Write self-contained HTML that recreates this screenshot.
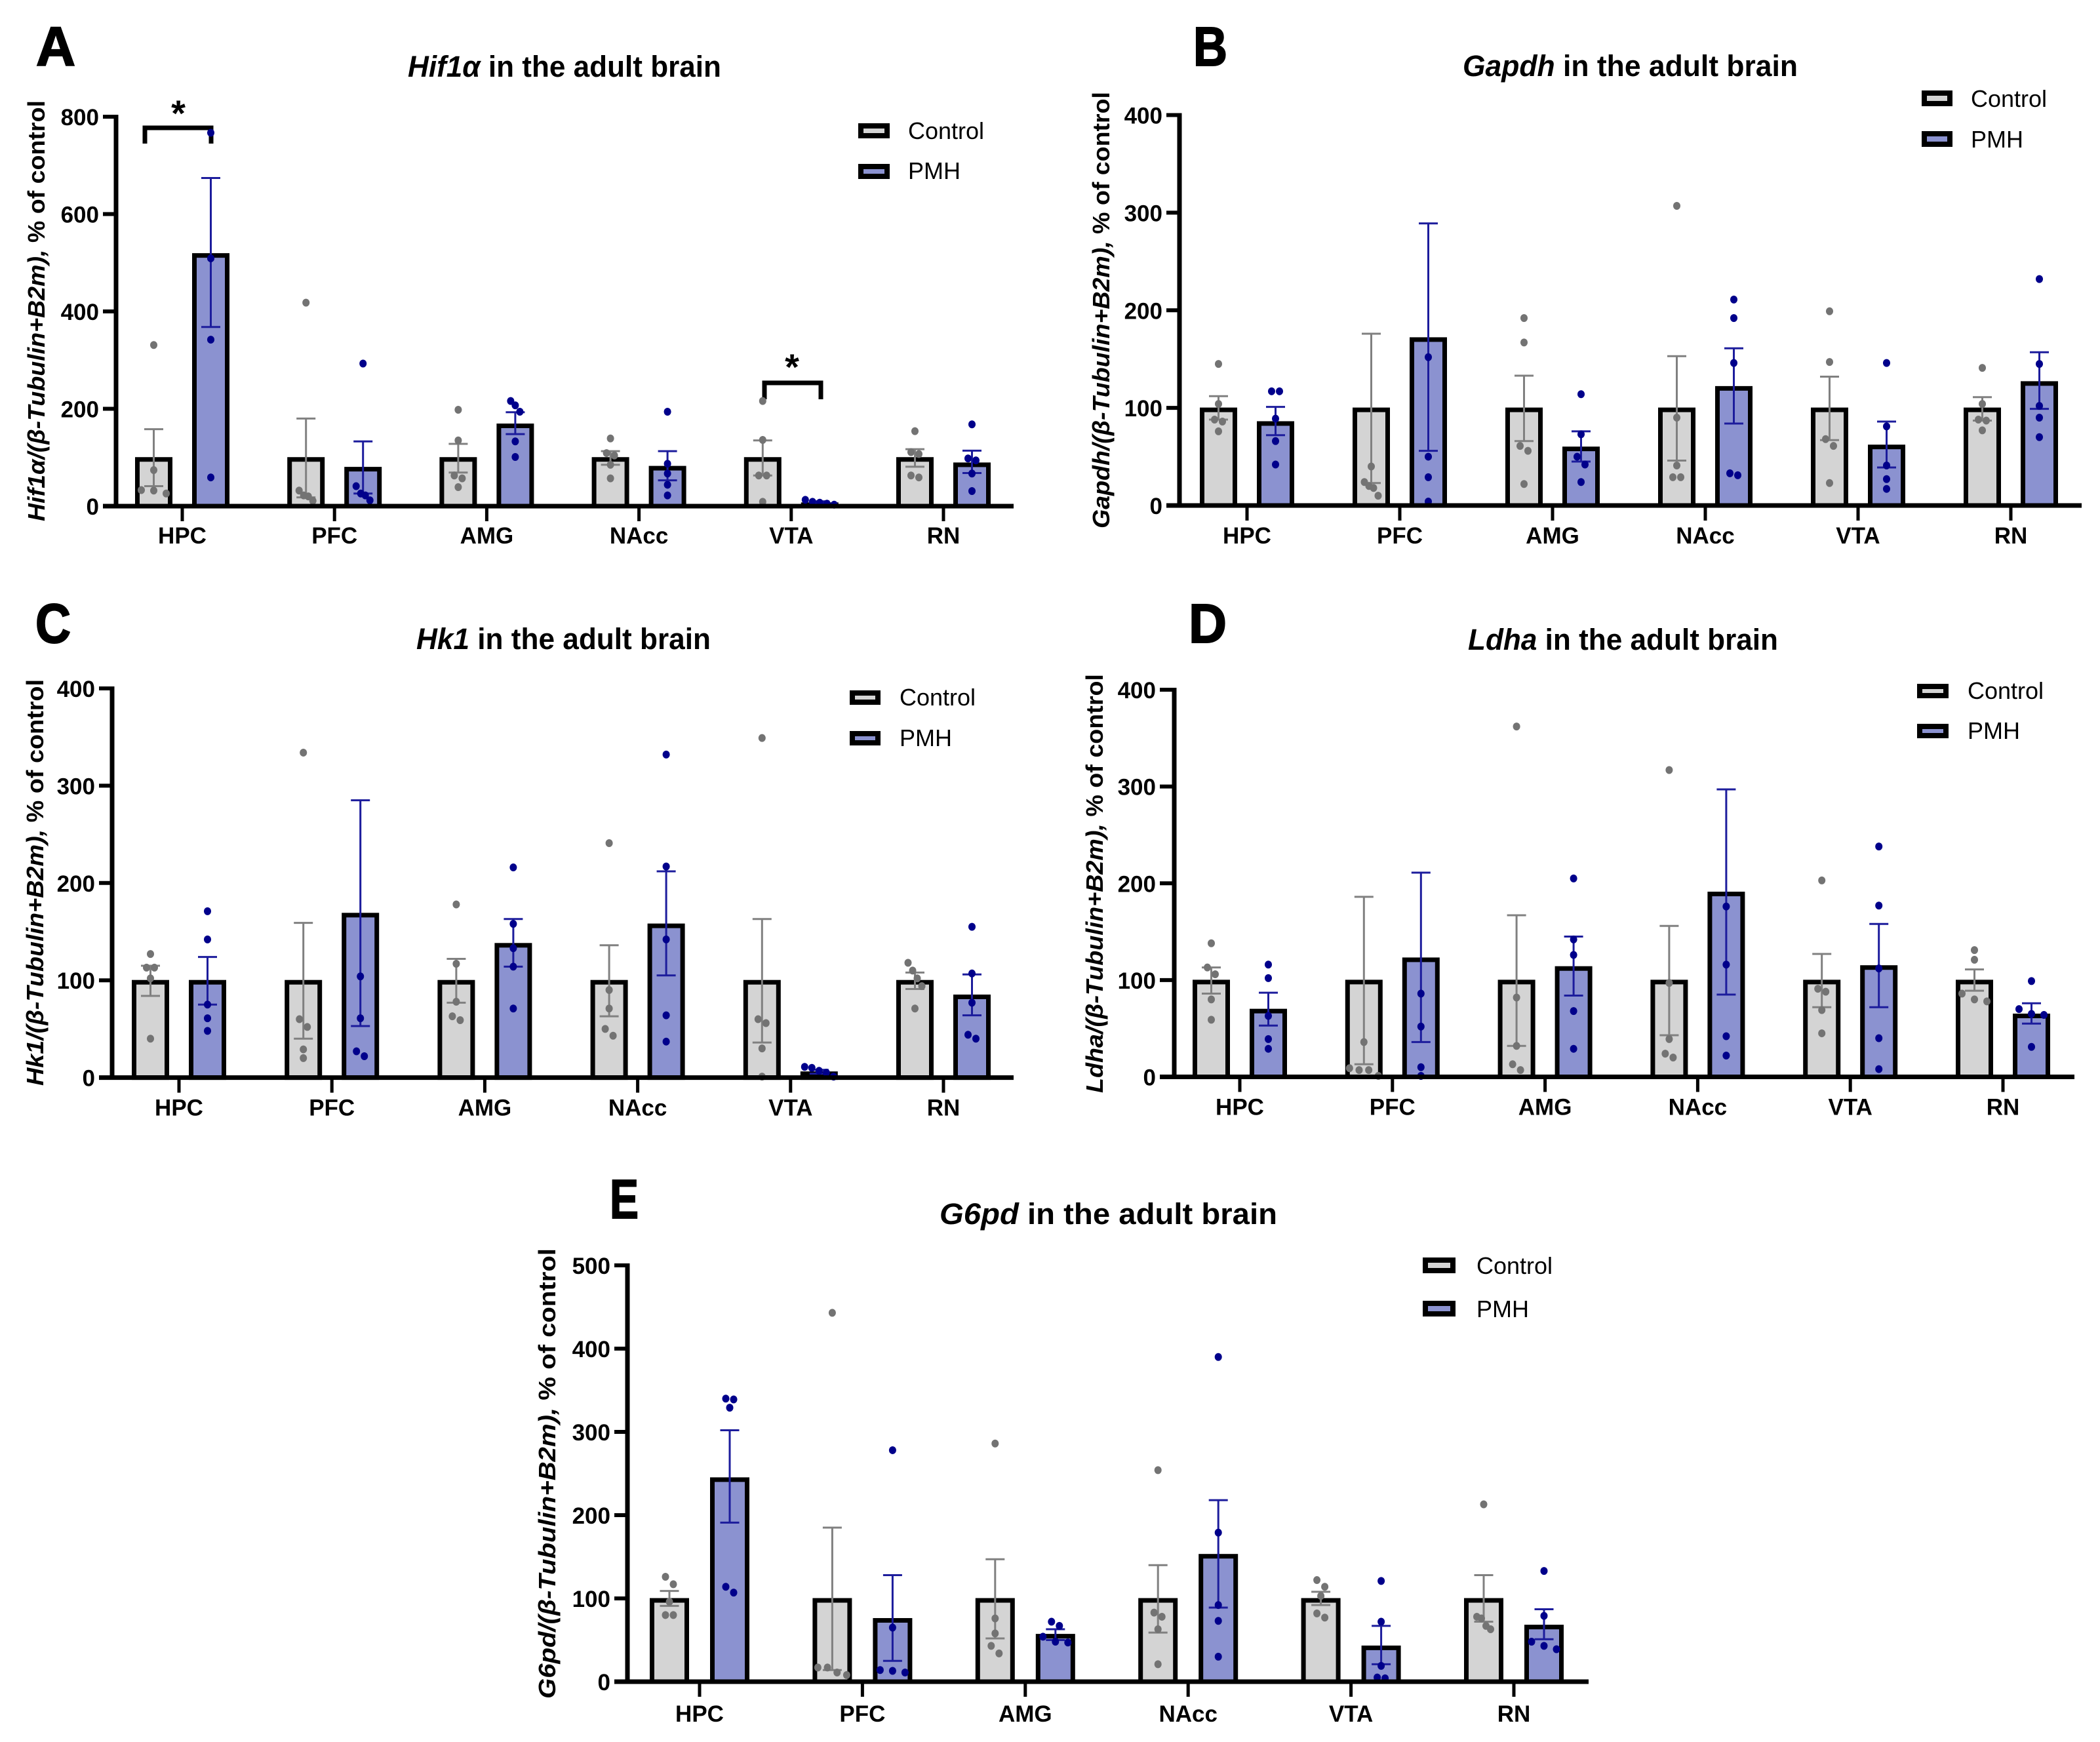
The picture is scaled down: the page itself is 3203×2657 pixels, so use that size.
<!DOCTYPE html>
<html lang="en">
<head>
<meta charset="utf-8">
<title>Gene expression in the adult brain</title>
<style>
html,body{margin:0;padding:0;background:#fff;}
svg{display:block;}
text{font-family:"Liberation Sans","DejaVu Sans",sans-serif;fill:#000;}
.letter{font-size:84px;font-weight:700;stroke:#000;stroke-width:2;}
.title{font-size:45px;font-weight:700;}
.ytitle{font-size:36px;font-weight:700;}
.legend{font-size:36px;}
.tick{font-size:35px;font-weight:700;}
.star{font-size:56px;font-weight:700;text-anchor:middle;}
.ctrl{fill:#d4d4d4;stroke:#000;stroke-width:8;}
.pmh{fill:#8b92d0;stroke:#000;stroke-width:8;}
</style>
</head>
<body>
<svg id="figure" xmlns="http://www.w3.org/2000/svg" width="3203" height="2657" viewBox="0 0 3203 2657">
<rect width="3203" height="2657" fill="#fff"/>

<g id="panel-a">
  <text class="letter" x="55" y="100" textLength="60" lengthAdjust="spacingAndGlyphs">A</text>
  <text class="title" x="622" y="117" textLength="478" lengthAdjust="spacingAndGlyphs"><tspan font-style="italic">Hif1α</tspan> in the adult brain</text>
  <text class="ytitle" transform="translate(68,795) rotate(-90)" textLength="642" lengthAdjust="spacingAndGlyphs"><tspan font-style="italic">Hif1α/(β-Tubulin+B2m),</tspan> % of control</text>
  <rect class="ctrl" x="1313" y="192" width="40" height="15"/>
  <text class="legend" x="1385" y="212">Control</text>
  <rect class="pmh" x="1313" y="254" width="40" height="15"/>
  <text class="legend" x="1385" y="273">PMH</text>
  <path d="M221 219V195H322V219" fill="none" stroke="#000" stroke-width="7"/>
  <text class="star" x="272" y="192">*</text>
  <path d="M1166 609V584H1252V609" fill="none" stroke="#000" stroke-width="7"/>
  <text class="star" x="1208" y="579">*</text>
</g>

<g id="panel-b">
  <text class="letter" x="1820" y="100" textLength="52" lengthAdjust="spacingAndGlyphs">B</text>
  <text class="title" x="2231" y="116" textLength="511" lengthAdjust="spacingAndGlyphs"><tspan font-style="italic">Gapdh</tspan> in the adult brain</text>
  <text class="ytitle" transform="translate(1692,806) rotate(-90)" textLength="666" lengthAdjust="spacingAndGlyphs"><tspan font-style="italic">Gapdh/(β-Tubulin+B2m),</tspan> % of control</text>
  <rect class="ctrl" x="2935" y="142" width="39" height="16"/>
  <text class="legend" x="3006" y="163">Control</text>
  <rect class="pmh" x="2935" y="204" width="39" height="16"/>
  <text class="legend" x="3006" y="225">PMH</text>
</g>

<g id="panel-c">
  <text class="letter" x="54" y="980" textLength="54" lengthAdjust="spacingAndGlyphs">C</text>
  <text class="title" x="635" y="990" textLength="449" lengthAdjust="spacingAndGlyphs"><tspan font-style="italic">Hk1</tspan> in the adult brain</text>
  <text class="ytitle" transform="translate(66,1656) rotate(-90)" textLength="620" lengthAdjust="spacingAndGlyphs"><tspan font-style="italic">Hk1/(β-Tubulin+B2m),</tspan> % of control</text>
  <rect class="ctrl" x="1300" y="1057" width="39" height="14"/>
  <text class="legend" x="1372" y="1076">Control</text>
  <rect class="pmh" x="1300" y="1119" width="39" height="14"/>
  <text class="legend" x="1372" y="1138">PMH</text>
</g>

<g id="panel-d">
  <text class="letter" x="1813" y="980" textLength="58" lengthAdjust="spacingAndGlyphs">D</text>
  <text class="title" x="2239" y="991" textLength="473" lengthAdjust="spacingAndGlyphs"><tspan font-style="italic">Ldha</tspan> in the adult brain</text>
  <text class="ytitle" transform="translate(1682,1667) rotate(-90)" textLength="639" lengthAdjust="spacingAndGlyphs"><tspan font-style="italic">Ldha/(β-Tubulin+B2m),</tspan> % of control</text>
  <rect class="ctrl" x="2928" y="1047" width="40" height="14"/>
  <text class="legend" x="3001" y="1066">Control</text>
  <rect class="pmh" x="2928" y="1108" width="40" height="14"/>
  <text class="legend" x="3001" y="1127">PMH</text>
</g>

<g id="panel-e">
  <text class="letter" x="930" y="1858" textLength="44" lengthAdjust="spacingAndGlyphs">E</text>
  <text class="title" x="1433" y="1867" textLength="515" lengthAdjust="spacingAndGlyphs"><tspan font-style="italic">G6pd</tspan> in the adult brain</text>
  <text class="ytitle" transform="translate(847,2591) rotate(-90)" textLength="687" lengthAdjust="spacingAndGlyphs"><tspan font-style="italic">G6pd/(β-Tubulin+B2m),</tspan> % of control</text>
  <rect class="ctrl" x="2174" y="1922" width="42" height="16"/>
  <text class="legend" x="2252" y="1943">Control</text>
  <rect class="pmh" x="2174" y="1988" width="42" height="16"/>
  <text class="legend" x="2252" y="2009">PMH</text>
</g>
</svg>

<script>
const categories = ['HPC', 'PFC', 'AMG', 'NAcc', 'VTA', 'RN'];

const hif1aTicks = [0, 200, 400, 600, 800];
const hif1aControlMean = [100, 100, 100, 100, 100, 100];
const hif1aControlUpper = [158, 180, 128, 113, 135, 117];
const hif1aControlLower = [41, 18, 69, 85, 63, 81];
const hif1aControlPoints = [[331, 74, 33, 32, 26], [418, 32, 22, 20, 11], [198, 135, 63, 57, 39], [139, 109, 104, 85, 57], [216, 136, 63, 63, 9], [154, 111, 107, 63, 59]];
const hif1aPmhMean = [519, 80, 169, 82, 7, 89];
const hif1aPmhUpper = [674, 133, 193, 113, 10, 114];
const hif1aPmhLower = [368, 26, 148, 53, 5, 68];
const hif1aPmhPoints = [[767, 509, 342, 59], [293, 41, 26, 22, 12], [216, 207, 194, 133, 101], [194, 87, 67, 44, 22], [13, 9, 7, 5, 3], [168, 98, 94, 67, 31]];

const gapdhTicks = [0, 100, 200, 300, 400];
const gapdhControlMean = [100, 100, 100, 100, 100, 100];
const gapdhControlUpper = [112, 176, 133, 153, 132, 111];
const gapdhControlLower = [88, 23, 66, 46, 67, 87];
const gapdhControlPoints = [[145, 104, 88, 86, 76], [40, 24, 20, 18, 10], [192, 167, 61, 56, 22], [307, 90, 41, 29, 29], [199, 147, 68, 61, 23], [141, 104, 88, 87, 77]];
const gapdhPmhMean = [86, 172, 60, 122, 62, 127];
const gapdhPmhUpper = [101, 289, 76, 161, 86, 157];
const gapdhPmhLower = [72, 56, 45, 84, 39, 99];
const gapdhPmhPoints = [[117, 117, 89, 66, 42], [152, 50, 29, 4], [114, 73, 50, 42, 24], [211, 192, 146, 33, 31], [146, 81, 41, 27, 17], [232, 145, 102, 90, 70]];

const hk1Ticks = [0, 100, 200, 300, 400];
const hk1ControlMean = [100, 100, 100, 100, 100, 100];
const hk1ControlUpper = [115, 159, 122, 136, 163, 108];
const hk1ControlLower = [84, 40, 77, 63, 36, 91];
const hk1ControlPoints = [[127, 113, 113, 102, 40], [334, 60, 52, 29, 20], [178, 117, 78, 63, 59], [241, 90, 71, 50, 43], [349, 60, 56, 30, 1], [118, 110, 102, 94, 71]];
const hk1PmhMean = [100, 169, 138, 158, 6, 85];
const hk1PmhUpper = [124, 285, 163, 212, 8, 106];
const hk1PmhLower = [75, 53, 114, 105, 4, 64];
const hk1PmhPoints = [[171, 142, 75, 61, 48], [104, 61, 27, 22], [216, 158, 133, 114, 71], [332, 217, 142, 64, 37], [11, 10, 7, 5, 1], [155, 107, 77, 44, 40]];

const ldhaTicks = [0, 100, 200, 300, 400];
const ldhaControlMean = [100, 100, 100, 100, 100, 100];
const ldhaControlUpper = [113, 186, 167, 156, 127, 111];
const ldhaControlLower = [86, 13, 32, 43, 72, 89];
const ldhaControlPoints = [[138, 113, 106, 80, 59], [36, 9, 7, 7, 1], [362, 82, 32, 13, 7], [317, 97, 39, 24, 20], [203, 91, 88, 69, 45], [131, 121, 86, 80, 78]];
const ldhaPmhMean = [70, 123, 114, 191, 115, 65];
const ldhaPmhUpper = [87, 211, 145, 297, 158, 76];
const ldhaPmhLower = [53, 36, 84, 85, 72, 55];
const ldhaPmhPoints = [[116, 102, 63, 39, 29], [86, 52, 10, 1], [205, 142, 126, 68, 29], [176, 116, 42, 22], [238, 177, 112, 40, 8], [99, 70, 65, 64, 31]];

const g6pdTicks = [0, 100, 200, 300, 400, 500];
const g6pdControlMean = [100, 100, 100, 100, 100, 100];
const g6pdControlUpper = [109, 185, 147, 140, 108, 128];
const g6pdControlLower = [91, 14, 52, 59, 92, 72];
const g6pdControlPoints = [[126, 117, 96, 80, 80], [443, 17, 17, 11, 8], [286, 76, 58, 43, 34], [254, 83, 78, 63, 21], [122, 114, 103, 82, 77], [213, 78, 76, 67, 63]];
const g6pdPmhMean = [245, 76, 57, 153, 43, 68];
const g6pdPmhUpper = [302, 128, 63, 218, 67, 87];
const g6pdPmhLower = [191, 25, 50, 89, 21, 51];
const g6pdPmhPoints = [[340, 339, 329, 114, 107], [278, 65, 14, 13, 11], [72, 67, 54, 48, 47], [390, 179, 92, 73, 30], [121, 72, 19, 5, 4], [133, 79, 48, 43, 39]];

const SVG_NS = 'http://www.w3.org/2000/svg';

function make(tag, parent, attrs) {
  const el = document.createElementNS(SVG_NS, tag);
  for (const k in attrs) el.setAttribute(k, attrs[k]);
  parent.appendChild(el);
  return el;
}

/* Prism-style swarm: values close together fan out sideways, high to low, left to right. */
function swarmOffsets(values, yOf) {
  const order = values.map((v, i) => i).sort((a, b) => values[b] - values[a]);
  const offsets = new Array(values.length).fill(0);
  let start = 0;
  while (start < order.length) {
    let end = start;
    while (end + 1 < order.length && yOf(values[order[end + 1]]) - yOf(values[order[end]]) < 12) end++;
    const n = end - start + 1;
    if (n > 1) {
      const range = yOf(values[order[end]]) - yOf(values[order[start]]);
      let step = n === 2 ? 12 : Math.min(19, 44 / (n - 1));
      if (n >= 3 && range > 15) step = 7;
      for (let i = 0; i < n; i++) offsets[order[start + i]] = (i - (n - 1) / 2) * step;
    }
    start = end + 1;
  }
  return offsets;
}

function drawPanel(id, geom, ticks, series) {
  const panel = document.getElementById(id);
  const yMax = ticks[ticks.length - 1];
  const yOf = v => geom.y0 - (v / yMax) * (geom.y0 - geom.yTop);
  const xOf = i => geom.xFirst + i * geom.spacing;

  series.forEach(s => {
    categories.forEach((cat, i) => {
      const cx = xOf(i) + s.side * geom.barOffset;
      const top = yOf(s.mean[i]) + 3;

      const bar = make('rect', panel, { x: cx - geom.barWidth / 2 + 3.5, y: top, width: geom.barWidth - 7, height: Math.max(0, geom.y0 - top), fill: s.fill, stroke: '#000', 'stroke-width': 7 });
      
      

      const hi = yOf(s.upper[i]);
      const lo = yOf(s.lower[i]);
      const err = make('path', panel, { d: 'M' + (cx - 14.5) + ' ' + hi + 'H' + (cx + 14.5) + 'M' + cx + ' ' + hi + 'V' + lo + 'M' + (cx - 14.5) + ' ' + lo + 'H' + (cx + 14.5), fill: 'none', stroke: s.errColor, 'stroke-width': 3 });
      
      

      const off = swarmOffsets(s.points[i], yOf);
      s.points[i].forEach((v, j) => {
        const dot = make('ellipse', panel, { cx: cx + off[j], cy: yOf(v), rx: 5.5, ry: 6, fill: s.dotColor });
        
        
      });
    });
  });

  const yAxis = make('line', panel, { x1: geom.axisX, x2: geom.axisX, y1: geom.yTop - 3, y2: geom.y0 + 3, stroke: '#000', 'stroke-width': 7 });
  
  

  const xAxis = make('line', panel, { x1: geom.tickLeft, x2: geom.right, y1: geom.y0, y2: geom.y0, stroke: '#000', 'stroke-width': 7 });
  
  

  ticks.forEach(t => {
    const y = yOf(t);
    const tick = make('line', panel, { x1: geom.tickLeft, x2: geom.axisX, y1: y, y2: y, stroke: '#000', 'stroke-width': 6 });
    
    
    const label = make('text', panel, { x: geom.tickLeft - 6, y: y + 13, 'text-anchor': 'end', class: 'tick' });
    
    
    label.textContent = t;
  });

  categories.forEach((cat, i) => {
    const x = xOf(i);
    const tick = make('line', panel, { x1: x, x2: x, y1: geom.y0, y2: geom.y0 + 23, stroke: '#000', 'stroke-width': 5 });
    
    
    const label = make('text', panel, { x: x, y: geom.y0 + geom.labelGap, 'text-anchor': 'middle', class: 'tick' });
    
    
    label.textContent = cat;
  });
}

function seriesFor(cMean, cUp, cLo, cPts, pMean, pUp, pLo, pPts) {
  return [
    { key: 'control', side: -1, fill: '#d4d4d4', errColor: '#808080', dotColor: '#737373', mean: cMean, upper: cUp, lower: cLo, points: cPts },
    { key: 'pmh', side: 1, fill: '#8b92d0', errColor: '#1c1c9c', dotColor: '#00008b', mean: pMean, upper: pUp, lower: pLo, points: pPts }
  ];
}

drawPanel('panel-a', { axisX: 177, tickLeft: 157, y0: 772, yTop: 178, xFirst: 278, spacing: 232.2, right: 1546, barOffset: 43.5, barWidth: 57, labelGap: 57 }, hif1aTicks,
  seriesFor(hif1aControlMean, hif1aControlUpper, hif1aControlLower, hif1aControlPoints, hif1aPmhMean, hif1aPmhUpper, hif1aPmhLower, hif1aPmhPoints));
drawPanel('panel-b', { axisX: 1799, tickLeft: 1779, y0: 771, yTop: 175.5, xFirst: 1902, spacing: 233, right: 3175, barOffset: 43.5, barWidth: 57, labelGap: 58 }, gapdhTicks,
  seriesFor(gapdhControlMean, gapdhControlUpper, gapdhControlLower, gapdhControlPoints, gapdhPmhMean, gapdhPmhUpper, gapdhPmhLower, gapdhPmhPoints));
drawPanel('panel-c', { axisX: 171, tickLeft: 151, y0: 1643.6, yTop: 1050, xFirst: 273, spacing: 233.2, right: 1546, barOffset: 43.5, barWidth: 57, labelGap: 58 }, hk1Ticks,
  seriesFor(hk1ControlMean, hk1ControlUpper, hk1ControlLower, hk1ControlPoints, hk1PmhMean, hk1PmhUpper, hk1PmhLower, hk1PmhPoints));
drawPanel('panel-d', { axisX: 1791, tickLeft: 1769, y0: 1642.5, yTop: 1052, xFirst: 1891, spacing: 232.8, right: 3164, barOffset: 43.5, barWidth: 57, labelGap: 58 }, ldhaTicks,
  seriesFor(ldhaControlMean, ldhaControlUpper, ldhaControlLower, ldhaControlPoints, ldhaPmhMean, ldhaPmhUpper, ldhaPmhLower, ldhaPmhPoints));
drawPanel('panel-e', { axisX: 957, tickLeft: 937, y0: 2565, yTop: 1930, xFirst: 1067, spacing: 248.4, right: 2423, barOffset: 46, barWidth: 60, labelGap: 61 }, g6pdTicks,
  seriesFor(g6pdControlMean, g6pdControlUpper, g6pdControlLower, g6pdControlPoints, g6pdPmhMean, g6pdPmhUpper, g6pdPmhLower, g6pdPmhPoints));
</script>
</body>
</html>
